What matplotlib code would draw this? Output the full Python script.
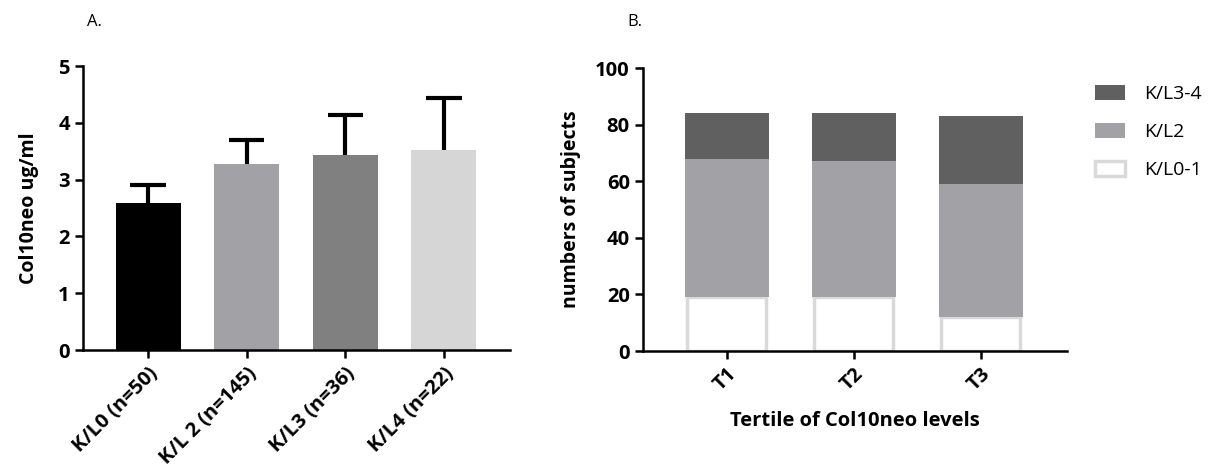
import matplotlib.pyplot as plt, numpy as np
from matplotlib.patches import Patch

plt.rcParams['font.family'] = ['Open Sans', 'DejaVu Sans']

# panel A data
groups = ['K/L0 (n=50)', 'K/L 2 (n=145)', 'K/L3 (n=36)', 'K/L4 (n=22)']
means = [2.59, 3.28, 3.43, 3.52]
err_up = [0.31, 0.42, 0.71, 0.92]
colors_a = ['#000000', '#a2a2a6', '#808080', '#d6d6d6']

# panel B data
tertiles = ['T1', 'T2', 'T3']
kl01 = [19, 19, 12]
kl2 = [49, 48, 47]
kl34 = [16, 17, 24]

fig = plt.figure(figsize=(12.21, 4.76), dpi=100)

def style(ax):
    for s in ['top', 'right']:
        ax.spines[s].set_visible(False)
    for s in ['left', 'bottom']:
        ax.spines[s].set_linewidth(1.8)
    ax.tick_params(width=1.8, length=6, labelsize=14.5)
    plt.setp(ax.get_yticklabels(), fontweight='bold')

# ---- A ----
ax1 = fig.add_axes([0.068, 0.2647, 0.3497, 0.5966])
pos = np.arange(len(groups))
tops = np.add(means, err_up)
ax1.bar(pos, means, 0.66, color=colors_a, zorder=2)
ax1.vlines(pos, means, tops, color='black', linewidth=3, zorder=1)
ax1.hlines(tops, pos - 0.18, pos + 0.18, color='black', linewidth=3, zorder=1)
ax1.set_xlim(-0.66, 3.67)
ax1.set_ylim(0, 5)
ax1.set_yticks(range(6))
ax1.set_xticks(pos)
ax1.set_xticklabels(groups, rotation=45, ha='right', rotation_mode='anchor',
                    fontsize=13.5, fontweight='bold')
style(ax1)
ax1.set_ylabel('Col10neo ug/ml', fontsize=14, fontweight='bold', labelpad=14)
fig.text(0.071, 0.954, 'A.', fontsize=12, va='center')

# ---- B ----
ax2 = fig.add_axes([0.5266, 0.2626, 0.3473, 0.5945])
pos2 = np.arange(len(tertiles))
w = 0.66
ax2.bar(pos2, kl01, w - 0.04, color='white', edgecolor='#d9d9d9', linewidth=2.5,
        label='K/L0-1', zorder=2)
ax2.bar(pos2, kl2, w, bottom=kl01, color='#a2a2a6', label='K/L2', zorder=2)
ax2.bar(pos2, kl34, w, bottom=np.add(kl01, kl2), color='#606060',
        label='K/L3-4', zorder=2)
ax2.set_xlim(-0.66, 2.68)
ax2.set_ylim(0, 100)
ax2.set_yticks(range(0, 101, 20))
ax2.set_xticks(pos2)
ax2.set_xticklabels(tertiles, rotation=45, ha='right', rotation_mode='anchor',
                    fontsize=13.5, fontweight='bold')
style(ax2)
ax2.set_ylabel('numbers of subjects', fontsize=14, fontweight='bold', labelpad=10)
ax2.set_xlabel('Tertile of Col10neo levels', fontsize=14.5, fontweight='bold',
               labelpad=12)
fig.text(0.514, 0.954, 'B.', fontsize=12, va='center')

handles = [Patch(facecolor='#606060', label='K/L3-4'),
           Patch(facecolor='#a2a2a6', label='K/L2'),
           Patch(facecolor='white', edgecolor='#d9d9d9', linewidth=2.5, label='K/L0-1')]
fig.legend(handles=handles, loc='upper left', bbox_to_anchor=(0.897, 0.822),
           frameon=False, fontsize=14, handlelength=1.55, handleheight=0.85,
           labelspacing=1.0, handletextpad=0.95, borderpad=0, borderaxespad=0)

fig.savefig('out.png', dpi=100)
